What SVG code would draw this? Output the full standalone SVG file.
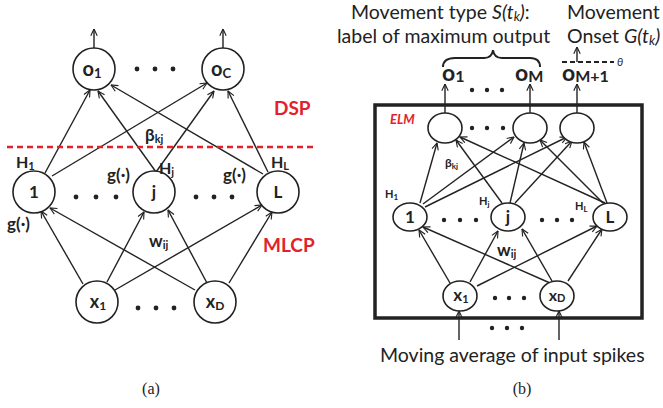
<svg xmlns="http://www.w3.org/2000/svg" width="663" height="408" viewBox="0 0 663 408">
<defs>
<marker id="ah" viewBox="0 0 10 10" refX="9.5" refY="5" markerWidth="8" markerHeight="8" markerUnits="userSpaceOnUse" orient="auto">
<path d="M1,1 L9.5,5 L1,9" fill="none" stroke="#222" stroke-width="1.4"/>
</marker>
<style>
.n{fill:#fff;stroke:#222;stroke-width:1.6}
.e{stroke:#222;stroke-width:1.4;fill:none;marker-end:url(#ah)}
.t{font-family:Lato,"Open Sans","Liberation Sans",sans-serif;font-weight:bold;fill:#222}
.r{font-family:Lato,"Open Sans","Liberation Sans",sans-serif;font-weight:bold;fill:#e3212b}
.p{font-family:Lato,"Open Sans","Liberation Sans",sans-serif;fill:#222}
.cap{font-family:"Liberation Serif",serif;font-size:16px;fill:#222}
.d{fill:#222}
</style>
</defs>
<rect width="663" height="408" fill="#fff"/>

<!-- Panel (a) connectors -->
<g id="a-connectors">
<line class="e" x1="94" y1="48" x2="94" y2="29"/>
<line class="e" x1="223" y1="48" x2="223" y2="29"/>
<line class="e" x1="45" y1="173" x2="90" y2="90"/>
<line class="e" x1="52" y1="176" x2="207" y2="83"/>
<line class="e" x1="156" y1="172" x2="98" y2="91"/>
<line class="e" x1="156" y1="172" x2="214" y2="91"/>
<line class="e" x1="263" y1="174" x2="111" y2="85"/>
<line class="e" x1="268" y1="172" x2="228" y2="91"/>
<line class="e" x1="83" y1="284" x2="41" y2="211"/>
<line class="e" x1="195" y1="290" x2="50" y2="208"/>
<line class="e" x1="107" y1="282" x2="144" y2="212"/>
<line class="e" x1="207" y1="283" x2="168" y2="210"/>
<line class="e" x1="115" y1="290" x2="262" y2="205"/>
<line class="e" x1="229" y1="283" x2="272" y2="212"/>
</g>
<line x1="7" y1="147" x2="315" y2="147" stroke="#e3212b" stroke-width="2.6" stroke-dasharray="6,4"/>

<g id="a-o1"><circle class="n" cx="94" cy="69" r="21"/><text class="t" x="92" y="76" font-size="20" text-anchor="middle">o<tspan font-size="13" dy="2">1</tspan></text></g>
<g id="a-oC"><circle class="n" cx="223" cy="69" r="21"/><text class="t" x="221" y="76" font-size="20" text-anchor="middle">o<tspan font-size="13" dy="2">C</tspan></text></g>
<g id="a-h1"><circle class="n" cx="34" cy="192" r="21"/><text class="t" x="34" y="198" font-size="17" text-anchor="middle">1</text></g>
<g id="a-hj"><circle class="n" cx="154" cy="192" r="21"/><text class="t" x="154" y="198" font-size="17" text-anchor="middle">j</text></g>
<g id="a-hL"><circle class="n" cx="278" cy="192" r="21"/><text class="t" x="278" y="198" font-size="17" text-anchor="middle">L</text></g>
<g id="a-x1"><circle class="n" cx="97" cy="302" r="21"/><text class="t" x="98" y="308" font-size="18" text-anchor="middle">x<tspan font-size="12" dy="2">1</tspan></text></g>
<g id="a-xD"><circle class="n" cx="215" cy="302" r="21"/><text class="t" x="215" y="308" font-size="18" text-anchor="middle">x<tspan font-size="12" dy="2">D</tspan></text></g>

<g id="a-dots">
<circle class="d" cx="137" cy="69" r="2.4"/><circle class="d" cx="155" cy="69" r="2.4"/><circle class="d" cx="173" cy="69" r="2.4"/>
<circle class="d" cx="76" cy="197" r="2.4"/><circle class="d" cx="96" cy="197" r="2.4"/><circle class="d" cx="116" cy="197" r="2.4"/>
<circle class="d" cx="196" cy="197" r="2.4"/><circle class="d" cx="214" cy="197" r="2.4"/><circle class="d" cx="232" cy="197" r="2.4"/>
<circle class="d" cx="138" cy="308" r="2.4"/><circle class="d" cx="156" cy="308" r="2.4"/><circle class="d" cx="174" cy="308" r="2.4"/>
</g>
<g id="a-labels">
<text class="t" x="16" y="168" font-size="16">H<tspan font-size="11" dy="2">1</tspan></text>
<text class="t" x="159" y="174" font-size="16">H<tspan font-size="11" dy="2">j</tspan></text>
<text class="t" x="271" y="168" font-size="16">H<tspan font-size="11" dy="2">L</tspan></text>
<text class="t" x="107" y="181" font-size="17">g(·)</text>
<text class="t" x="223" y="181" font-size="17">g(·)</text>
<text class="t" x="7" y="230" font-size="17">g(·)</text>
<text class="t" x="145" y="141" font-size="17">β<tspan font-size="11" dy="2">kj</tspan></text>
<text class="t" x="149" y="247" font-size="17">w<tspan font-size="11" dy="2">ij</tspan></text>
<text class="r" x="274" y="115" font-size="19">DSP</text>
<text class="r" x="263" y="252" font-size="19">MLCP</text>
<text class="cap" x="151" y="394" text-anchor="middle">(a)</text>
</g>

<!-- Panel (b) -->
<rect x="375" y="105" width="267" height="213" fill="none" stroke="#222" stroke-width="3.5"/>
<g id="b-connectors">
<line class="e" x1="445" y1="113" x2="445" y2="84"/>
<line class="e" x1="530" y1="113" x2="530" y2="84"/>
<line class="e" x1="577" y1="113" x2="577" y2="84"/>
<line class="e" x1="577" y1="62" x2="577" y2="47"/>
<line class="e" x1="420" y1="203" x2="437" y2="143"/>
<line class="e" x1="423" y1="204" x2="514" y2="137"/>
<line class="e" x1="425" y1="207" x2="567" y2="137"/>
<line class="e" x1="502" y1="203" x2="456" y2="140"/>
<line class="e" x1="510" y1="203" x2="524" y2="143"/>
<line class="e" x1="515" y1="203" x2="572" y2="141"/>
<line class="e" x1="605" y1="203" x2="460" y2="137"/>
<line class="e" x1="603" y1="203" x2="540" y2="140"/>
<line class="e" x1="607" y1="203" x2="584" y2="142"/>
<line class="e" x1="450" y1="283" x2="419" y2="230"/>
<line class="e" x1="550" y1="283" x2="423" y2="227"/>
<line class="e" x1="470" y1="282" x2="498" y2="231"/>
<line class="e" x1="552" y1="281" x2="522" y2="229"/>
<line class="e" x1="477" y1="286" x2="597" y2="226"/>
<line class="e" x1="568" y1="281" x2="602" y2="229"/>
<line class="e" x1="459" y1="340" x2="459" y2="311"/>
<line class="e" x1="559" y1="340" x2="559" y2="311"/>
</g>
<line x1="562" y1="62" x2="614" y2="62" stroke="#222" stroke-width="2" stroke-dasharray="5,3"/>

<g id="b-o1"><ellipse class="n" cx="445" cy="128" rx="17" ry="15"/></g>
<g id="b-oM"><ellipse class="n" cx="530" cy="128" rx="17" ry="15"/></g>
<g id="b-oM1"><ellipse class="n" cx="577" cy="128" rx="17" ry="15"/></g>
<g id="b-h1"><ellipse class="n" cx="410" cy="217" rx="17" ry="14"/><text class="t" x="410" y="223" font-size="17" text-anchor="middle">1</text></g>
<g id="b-hj"><ellipse class="n" cx="508" cy="217" rx="17" ry="14"/><text class="t" x="508" y="223" font-size="17" text-anchor="middle">j</text></g>
<g id="b-hL"><ellipse class="n" cx="610" cy="217" rx="17" ry="14"/><text class="t" x="610" y="223" font-size="17" text-anchor="middle">L</text></g>
<g id="b-x1"><ellipse class="n" cx="460" cy="296" rx="17" ry="15"/><text class="t" x="461" y="301" font-size="17" text-anchor="middle">x<tspan font-size="11" dy="2">1</tspan></text></g>
<g id="b-xD"><ellipse class="n" cx="557" cy="296" rx="17" ry="15"/><text class="t" x="557" y="301" font-size="16" text-anchor="middle">x<tspan font-size="11" dy="1">D</tspan></text></g>

<g id="b-dots">
<circle class="d" cx="472" cy="128" r="2.2"/><circle class="d" cx="487" cy="128" r="2.2"/><circle class="d" cx="503" cy="128" r="2.2"/>
<circle class="d" cx="472" cy="90" r="2.2"/><circle class="d" cx="487" cy="90" r="2.2"/><circle class="d" cx="502" cy="90" r="2.2"/>
<circle class="d" cx="444" cy="220" r="2.2"/><circle class="d" cx="460" cy="220" r="2.2"/><circle class="d" cx="476" cy="220" r="2.2"/>
<circle class="d" cx="542" cy="220" r="2.2"/><circle class="d" cx="557" cy="220" r="2.2"/><circle class="d" cx="572" cy="220" r="2.2"/>
<circle class="d" cx="495" cy="298" r="2.2"/><circle class="d" cx="509" cy="298" r="2.2"/><circle class="d" cx="524" cy="298" r="2.2"/>
<circle class="d" cx="492" cy="328" r="2.2"/><circle class="d" cx="507" cy="328" r="2.2"/><circle class="d" cx="522" cy="328" r="2.2"/>
</g>
<g id="b-labels">
<text class="r" x="390" y="124" font-size="13" font-style="italic">ELM</text>
<text class="t" x="445" y="167" font-size="12">β<tspan font-size="8" dy="2">kj</tspan></text>
<text class="t" x="385" y="198" font-size="11">H<tspan font-size="8" dy="2">1</tspan></text>
<text class="t" x="479" y="205" font-size="11">H<tspan font-size="8" dy="2">j</tspan></text>
<text class="t" x="575" y="210" font-size="11">H<tspan font-size="8" dy="2">L</tspan></text>
<text class="t" x="497" y="256" font-size="17">w<tspan font-size="11" dy="2">ij</tspan></text>
<text class="t" x="442" y="81" font-size="23">o<tspan font-size="16" dy="1">1</tspan></text>
<text class="t" x="515" y="81" font-size="23">o<tspan font-size="16" dy="1">M</tspan></text>
<text class="t" x="562" y="81" font-size="23">o<tspan font-size="16" dy="1">M+1</tspan></text>
<path d="M443,67 Q443,58 455,58 L484,58 Q492,58 493,50 Q494,58 502,58 L530,58 Q540,58 540,67" fill="none" stroke="#222" stroke-width="2"/>
<text class="p" x="351" y="19" font-size="19.5">Movement type <tspan font-style="italic">S(t<tspan font-size="13" dy="2">k</tspan><tspan dy="-2">)</tspan></tspan>:</text>
<text class="p" x="337" y="43" font-size="19.5">label of maximum output</text>
<text class="p" x="567" y="19" font-size="19.5">Movement</text>
<text class="p" x="567" y="43" font-size="19.5">Onset <tspan font-style="italic">G(t<tspan font-size="13" dy="2">k</tspan><tspan dy="-2">)</tspan></tspan></text>
<text class="p" x="617" y="66" font-size="11" font-style="italic">θ</text>
<text class="p" x="380" y="362" font-size="19.5">Moving average of input spikes</text>
<text class="cap" x="522" y="394" text-anchor="middle">(b)</text>
</g>
</svg>
